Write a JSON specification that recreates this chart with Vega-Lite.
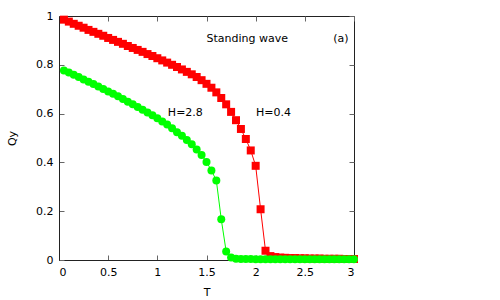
{
  "$schema": "https://vega.github.io/schema/vega-lite/v6.json",
  "width": 295,
  "height": 244,
  "autosize": {"type": "none"},
  "padding": {"left": 59, "top": 16, "right": 146, "bottom": 40},
  "background": "white",
  "config": {
    "view": {"stroke": "#222", "strokeWidth": 1},
    "axis": {
      "labelFont": "DejaVu Sans", "labelFontSize": 11, "labelColor": "#000",
      "titleFont": "DejaVu Sans", "titleFontSize": 11, "titleFontWeight": "normal", "titleColor": "#000",
      "grid": false, "tickSize": -5, "tickColor": "#666", "domainColor": "#222", "labelPadding": 11
    },
    "text": {"font": "DejaVu Sans", "fontSize": 11, "color": "#000"}
  },
  "datasets": {
    "curves": [
      {"T":0.05,"Q":0.985,"H":"0.4"},{"T":0.10,"Q":0.977,"H":"0.4"},{"T":0.15,"Q":0.968,"H":"0.4"},{"T":0.20,"Q":0.960,"H":"0.4"},
      {"T":0.25,"Q":0.952,"H":"0.4"},{"T":0.30,"Q":0.943,"H":"0.4"},{"T":0.35,"Q":0.935,"H":"0.4"},{"T":0.40,"Q":0.927,"H":"0.4"},
      {"T":0.45,"Q":0.919,"H":"0.4"},{"T":0.50,"Q":0.910,"H":"0.4"},{"T":0.55,"Q":0.902,"H":"0.4"},{"T":0.60,"Q":0.894,"H":"0.4"},
      {"T":0.65,"Q":0.886,"H":"0.4"},{"T":0.70,"Q":0.877,"H":"0.4"},{"T":0.75,"Q":0.869,"H":"0.4"},{"T":0.80,"Q":0.861,"H":"0.4"},
      {"T":0.85,"Q":0.853,"H":"0.4"},{"T":0.90,"Q":0.844,"H":"0.4"},{"T":0.95,"Q":0.836,"H":"0.4"},{"T":1.00,"Q":0.827,"H":"0.4"},
      {"T":1.05,"Q":0.818,"H":"0.4"},{"T":1.10,"Q":0.809,"H":"0.4"},{"T":1.15,"Q":0.800,"H":"0.4"},{"T":1.20,"Q":0.791,"H":"0.4"},
      {"T":1.25,"Q":0.781,"H":"0.4"},{"T":1.30,"Q":0.771,"H":"0.4"},{"T":1.35,"Q":0.761,"H":"0.4"},{"T":1.40,"Q":0.750,"H":"0.4"},
      {"T":1.45,"Q":0.737,"H":"0.4"},{"T":1.50,"Q":0.722,"H":"0.4"},{"T":1.55,"Q":0.706,"H":"0.4"},{"T":1.60,"Q":0.687,"H":"0.4"},
      {"T":1.65,"Q":0.664,"H":"0.4"},{"T":1.70,"Q":0.638,"H":"0.4"},{"T":1.75,"Q":0.607,"H":"0.4"},{"T":1.80,"Q":0.573,"H":"0.4"},
      {"T":1.85,"Q":0.537,"H":"0.4"},{"T":1.90,"Q":0.496,"H":"0.4"},{"T":1.95,"Q":0.449,"H":"0.4"},{"T":2.00,"Q":0.386,"H":"0.4"},
      {"T":2.05,"Q":0.208,"H":"0.4"},{"T":2.10,"Q":0.038,"H":"0.4"},{"T":2.15,"Q":0.016,"H":"0.4"},{"T":2.20,"Q":0.012,"H":"0.4"},
      {"T":2.25,"Q":0.010,"H":"0.4"},{"T":2.30,"Q":0.009,"H":"0.4"},{"T":2.35,"Q":0.008,"H":"0.4"},{"T":2.40,"Q":0.008,"H":"0.4"},
      {"T":2.45,"Q":0.007,"H":"0.4"},{"T":2.50,"Q":0.007,"H":"0.4"},{"T":2.55,"Q":0.006,"H":"0.4"},{"T":2.60,"Q":0.006,"H":"0.4"},
      {"T":2.65,"Q":0.006,"H":"0.4"},{"T":2.70,"Q":0.005,"H":"0.4"},{"T":2.75,"Q":0.005,"H":"0.4"},{"T":2.80,"Q":0.005,"H":"0.4"},
      {"T":2.85,"Q":0.005,"H":"0.4"},{"T":2.90,"Q":0.004,"H":"0.4"},{"T":2.95,"Q":0.004,"H":"0.4"},{"T":3.00,"Q":0.004,"H":"0.4"},
      {"T":0.05,"Q":0.777,"H":"2.8"},{"T":0.10,"Q":0.768,"H":"2.8"},{"T":0.15,"Q":0.759,"H":"2.8"},{"T":0.20,"Q":0.750,"H":"2.8"},
      {"T":0.25,"Q":0.740,"H":"2.8"},{"T":0.30,"Q":0.731,"H":"2.8"},{"T":0.35,"Q":0.721,"H":"2.8"},{"T":0.40,"Q":0.711,"H":"2.8"},
      {"T":0.45,"Q":0.701,"H":"2.8"},{"T":0.50,"Q":0.691,"H":"2.8"},{"T":0.55,"Q":0.681,"H":"2.8"},{"T":0.60,"Q":0.671,"H":"2.8"},
      {"T":0.65,"Q":0.660,"H":"2.8"},{"T":0.70,"Q":0.649,"H":"2.8"},{"T":0.75,"Q":0.638,"H":"2.8"},{"T":0.80,"Q":0.627,"H":"2.8"},
      {"T":0.85,"Q":0.616,"H":"2.8"},{"T":0.90,"Q":0.605,"H":"2.8"},{"T":0.95,"Q":0.593,"H":"2.8"},{"T":1.00,"Q":0.581,"H":"2.8"},
      {"T":1.05,"Q":0.568,"H":"2.8"},{"T":1.10,"Q":0.555,"H":"2.8"},{"T":1.15,"Q":0.540,"H":"2.8"},{"T":1.20,"Q":0.524,"H":"2.8"},
      {"T":1.25,"Q":0.509,"H":"2.8"},{"T":1.30,"Q":0.492,"H":"2.8"},{"T":1.35,"Q":0.474,"H":"2.8"},{"T":1.40,"Q":0.453,"H":"2.8"},
      {"T":1.45,"Q":0.430,"H":"2.8"},{"T":1.50,"Q":0.402,"H":"2.8"},{"T":1.55,"Q":0.367,"H":"2.8"},{"T":1.60,"Q":0.326,"H":"2.8"},
      {"T":1.65,"Q":0.167,"H":"2.8"},{"T":1.70,"Q":0.035,"H":"2.8"},{"T":1.75,"Q":0.010,"H":"2.8"},{"T":1.80,"Q":0.005,"H":"2.8"},
      {"T":1.85,"Q":0.004,"H":"2.8"},{"T":1.90,"Q":0.004,"H":"2.8"},{"T":1.95,"Q":0.004,"H":"2.8"},{"T":2.00,"Q":0.003,"H":"2.8"},
      {"T":2.05,"Q":0.003,"H":"2.8"},{"T":2.10,"Q":0.003,"H":"2.8"},{"T":2.15,"Q":0.003,"H":"2.8"},{"T":2.20,"Q":0.003,"H":"2.8"},
      {"T":2.25,"Q":0.003,"H":"2.8"},{"T":2.30,"Q":0.003,"H":"2.8"},{"T":2.35,"Q":0.003,"H":"2.8"},{"T":2.40,"Q":0.003,"H":"2.8"},
      {"T":2.45,"Q":0.003,"H":"2.8"},{"T":2.50,"Q":0.003,"H":"2.8"},{"T":2.55,"Q":0.003,"H":"2.8"},{"T":2.60,"Q":0.003,"H":"2.8"},
      {"T":2.65,"Q":0.003,"H":"2.8"},{"T":2.70,"Q":0.003,"H":"2.8"},{"T":2.75,"Q":0.003,"H":"2.8"},{"T":2.80,"Q":0.003,"H":"2.8"},
      {"T":2.85,"Q":0.003,"H":"2.8"},{"T":2.90,"Q":0.003,"H":"2.8"},{"T":2.95,"Q":0.003,"H":"2.8"},{"T":3.00,"Q":0.003,"H":"2.8"}
    ]
  },
  "layer": [
    {
      "data": {"name": "curves"},
      "mark": {"type": "line", "strokeWidth": 1, "clip": false},
      "encoding": {
        "x": {"field": "T", "type": "quantitative", "scale": {"domain": [0, 3], "nice": false},
              "axis": {"orient": "bottom", "title": "T", "values": [0, 0.5, 1, 1.5, 2, 2.5, 3], "format": "~g", "titlePadding": 9}},
        "y": {"field": "Q", "type": "quantitative", "scale": {"domain": [0, 1], "nice": false},
              "axis": {"orient": "left", "title": "Qy", "values": [0, 0.2, 0.4, 0.6, 0.8, 1], "format": "~g", "titlePadding": 18}},
        "color": {"field": "H", "type": "nominal", "scale": {"domain": ["0.4", "2.8"], "range": ["#ff0000", "#00ff00"]}, "legend": null},
        "detail": {"field": "H"}
      }
    },
    {
      "data": {"name": "curves"},
      "mark": {"type": "point", "filled": true, "opacity": 1, "size": 64, "clip": false},
      "encoding": {
        "x": {"field": "T", "type": "quantitative", "axis": null},
        "y": {"field": "Q", "type": "quantitative", "axis": null},
        "color": {"field": "H", "type": "nominal", "scale": {"domain": ["0.4", "2.8"], "range": ["#ff0000", "#00ff00"]}, "legend": null},
        "shape": {"field": "H", "type": "nominal", "scale": {"domain": ["0.4", "2.8"], "range": ["square", "circle"]}, "legend": null}
      }
    },
    {
      "data": {"values": [{"label": "Standing wave"}]},
      "mark": {"type": "text", "align": "left", "baseline": "middle"},
      "encoding": {"x": {"datum": 1.5, "type": "quantitative", "axis": null}, "y": {"datum": 0.905, "type": "quantitative", "axis": null}, "text": {"field": "label"}}
    },
    {
      "data": {"values": [{"label": "(a)"}]},
      "mark": {"type": "text", "align": "right", "baseline": "middle"},
      "encoding": {"x": {"datum": 2.944, "type": "quantitative", "axis": null}, "y": {"datum": 0.905, "type": "quantitative", "axis": null}, "text": {"field": "label"}}
    },
    {
      "data": {"values": [{"label": "H=2.8"}]},
      "mark": {"type": "text", "align": "left", "baseline": "middle"},
      "encoding": {"x": {"datum": 1.107, "type": "quantitative", "axis": null}, "y": {"datum": 0.602, "type": "quantitative", "axis": null}, "text": {"field": "label"}}
    },
    {
      "data": {"values": [{"label": "H=0.4"}]},
      "mark": {"type": "text", "align": "left", "baseline": "middle"},
      "encoding": {"x": {"datum": 2.004, "type": "quantitative", "axis": null}, "y": {"datum": 0.602, "type": "quantitative", "axis": null}, "text": {"field": "label"}}
    },
    {
      "data": {"name": "curves"},
      "mark": {"type": "point", "opacity": 0},
      "encoding": {
        "x": {"field": "T", "type": "quantitative",
              "axis": {"orient": "top", "title": null, "labels": false, "domain": false, "values": [0, 0.5, 1, 1.5, 2, 2.5, 3]}},
        "y": {"field": "Q", "type": "quantitative",
              "axis": {"orient": "right", "title": null, "labels": false, "domain": false, "values": [0, 0.2, 0.4, 0.6, 0.8, 1]}}
      }
    }
  ],
  "resolve": {"axis": {"x": "independent", "y": "independent"}}
}
